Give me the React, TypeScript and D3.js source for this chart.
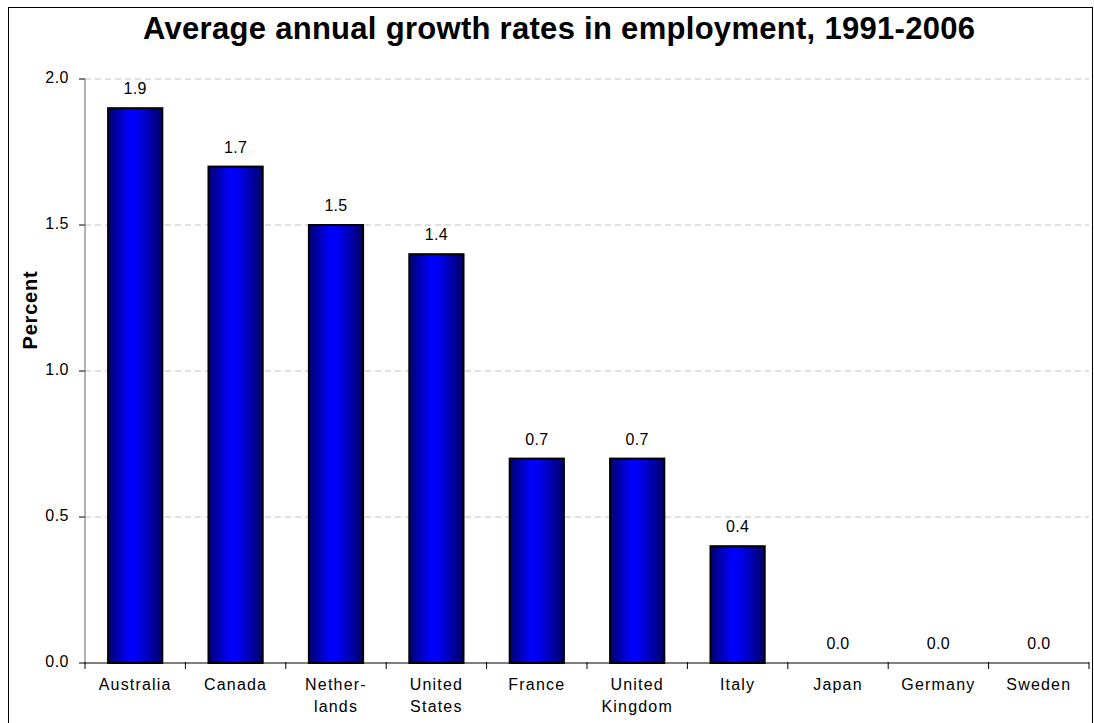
import React from "react";
import * as d3 from "d3";

const categories: string[][] = [
  ["Australia"], ["Canada"], ["Nether-", "lands"], ["United", "States"], ["France"],
  ["United", "Kingdom"], ["Italy"], ["Japan"], ["Germany"], ["Sweden"],
];
const values: number[] = [1.9, 1.7, 1.5, 1.4, 0.7, 0.7, 0.4, 0.0, 0.0, 0.0];
const yTicks: number[] = [0, 0.5, 1.0, 1.5, 2.0];
const title = "Average annual growth rates in employment, 1991-2006";
const yLabel = "Percent";

export default function App() {
  const W = 1094, H = 723;
  const left = 85, right = 1089, top = 79, bottom = 663;
  const keys = categories.map((c) => c.join(" "));
  const x = d3.scaleBand<string>().domain(keys).range([left, right]).paddingInner(0.46).paddingOuter(0.23);
  const xTickScale = d3.scaleLinear().domain([0, categories.length]).range([left, right]);
  const y = d3.scaleLinear().domain([0, 2]).range([bottom, top]);
  const font = "Arial, 'Liberation Sans', sans-serif";
  return (
    <svg width={W} height={H} style={{ position: "absolute", left: 0, top: 0, display: "block" }} fontFamily={font}>
      <defs>
        <linearGradient id="barGrad" x1="0" x2="1" y1="0" y2="0">
          <stop offset="0" stopColor="#000070" />
          <stop offset="0.4" stopColor="#0000ff" />
          <stop offset="0.55" stopColor="#0000f0" />
          <stop offset="1" stopColor="#000068" />
        </linearGradient>
      </defs>
      <rect x={0} y={0} width={W} height={H} fill="#fff" />
      <rect x={8.5} y={7.5} width={1084} height={730} fill="none" stroke="#000" strokeWidth={1} />
      <text x={559} y={39} textAnchor="middle" fontSize={31} fontWeight="bold" textLength={832} lengthAdjust="spacing">{title}</text>
      <text transform={`translate(37,310) rotate(-90)`} textAnchor="middle" fontSize={20} fontWeight="bold" letterSpacing={0.8}>{yLabel}</text>
      {yTicks.filter((t) => t > 0).map((t) => (
        <line key={"g" + t} x1={left} x2={right} y1={y(t)} y2={y(t)} stroke="#c0c0c0" strokeDasharray="6,4" />
      ))}
      {yTicks.map((t) => (
        <g key={"y" + t}>
          <line x1={left - 6} x2={left} y1={y(t)} y2={y(t)} stroke="#000" />
          <text x={69} y={y(t) + 4} textAnchor="end" fontSize={16} letterSpacing={0.5}>{t.toFixed(1)}</text>
        </g>
      ))}
      {values.map((v, i) => (
        v > 0 ? (
          <rect key={"b" + i} x={x(keys[i])!} y={y(v)} width={x.bandwidth()} height={y(0) - y(v)}
            fill="url(#barGrad)" stroke="#000" strokeWidth={2} />
        ) : null
      ))}
      {values.map((v, i) => (
        <text key={"v" + i} x={x(keys[i])! + x.bandwidth() / 2} y={y(v) - 14} textAnchor="middle" fontSize={16} letterSpacing={0.3}>{v.toFixed(1)}</text>
      ))}
      <line x1={left} x2={left} y1={top} y2={bottom} stroke="#666" />
      <line x1={left} x2={right} y1={bottom} y2={bottom} stroke="#000" />
      {d3.range(categories.length + 1).map((i) => (
        <line key={"t" + i} x1={xTickScale(i)} x2={xTickScale(i)} y1={bottom - 1} y2={bottom + 6} stroke="#000" />
      ))}
      {categories.map((c, i) => (
        <text key={"c" + i} x={x(keys[i])! + x.bandwidth() / 2} y={690} textAnchor="middle" fontSize={16} letterSpacing={1.2}>
          {c.map((line, j) => (
            <tspan key={j} x={x(keys[i])! + x.bandwidth() / 2} dy={j === 0 ? 0 : 22}>{line}</tspan>
          ))}
        </text>
      ))}
    </svg>
  );
}
